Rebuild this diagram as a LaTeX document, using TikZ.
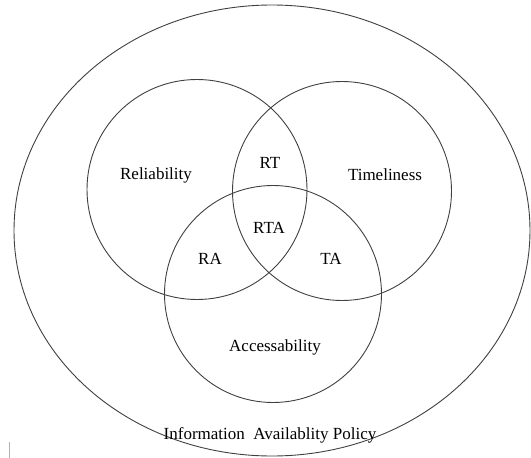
\documentclass[tikz,border=0pt]{standalone}
\usepackage{fontspec}
\setmainfont{Liberation Serif}
\begin{document}
\begin{tikzpicture}[x=1pt,y=-1pt,
  ring/.style={draw=black!75, line width=0.9pt},
  lbl/.style={font=\fontsize{17}{20}\selectfont, text=black, inner sep=0pt}]
\useasboundingbox (0,0) rectangle (531,458);
\draw[ring] (272,230.5) ellipse [x radius=258, y radius=225.5];
\draw[ring] (197,189.5) circle [radius=110];
\draw[ring] (342,191) circle [radius=109.5];
\draw[ring] (273,294) circle [radius=108.5];
\node[lbl] (rel) at (156,175) {Reliability};
\node[lbl] (tim) at (385,175) {Timeliness};
\node[lbl] (rt) at (270,163) {RT};
\node[lbl] (rta) at (269,228) {RTA};
\node[lbl] (ra) at (210,259) {RA};
\node[lbl] (ta) at (331,259) {TA};
\node[lbl] (acc) at (275,347) {Accessability};
\node[lbl] (pol) at (270,435) {Information\ \ Availablity Policy};
\draw[black!30, line width=1pt] (9,442) -- (9,458);
\end{tikzpicture}
\end{document}
